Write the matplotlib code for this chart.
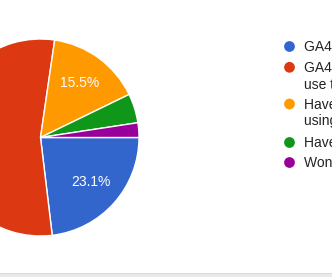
import matplotlib
matplotlib.use("Agg")
import matplotlib.pyplot as plt

plt.rcParams['font.family'] = ['Liberation Sans', 'DejaVu Sans']

# Survey responses (percent of respondents)
labels = [
    "GA4 is set up and is the only tool we use",
    "GA4 is set up, but we still\nuse the old Universal Analytics",
    "Haven't set up GA4 yet, but plan on\nusing it soon",
    "Haven't decided yet",
    "Won't be using GA4",
]
shares = [23.1, 54.2, 15.5, 4.8, 2.4]
colors = ["#3366cc", "#dc3912", "#ff9900", "#109618", "#990099"]

W, H = 332, 277
fig = plt.figure(figsize=(W / 100, H / 100), dpi=100)
fig.patch.set_facecolor("white")

# Pie axes placed in pixel terms: centre (40.5, 137.5), radius 98.5
cx, cy, r = 40.5, 137.5, 98.5
ax = fig.add_axes([(cx - r) / W, (H - cy - r) / H, 2 * r / W, 2 * r / H])
ax.set_xlim(-1, 1)
ax.set_ylim(-1, 1)
ax.set_aspect("equal")
ax.axis("off")


def pct_label(p):
    return f"{p:.1f}%" if p >= 10 else ""


wedges, texts, autotexts = ax.pie(
    shares,
    colors=colors,
    startangle=0,
    counterclock=False,
    radius=1.0,
    autopct=pct_label,
    pctdistance=0.68,
    wedgeprops=dict(edgecolor="white", linewidth=1.0),
    textprops=dict(color="white", fontsize=10),
)
ax.set_xlim(-1, 1)
ax.set_ylim(-1, 1)

# Overlay in pixel coordinates for the legend and the footer strip
ov = fig.add_axes([0, 0, 1, 1], zorder=5)
ov.set_xlim(0, W)
ov.set_ylim(H, 0)
ov.axis("off")
ov.patch.set_alpha(0)

row_y = [46.5, 67.3, 104.0, 142.5, 162.5]
line_step = 16.5
for lab, col, y in zip(labels, colors, row_y):
    ov.scatter([289.5], [y], s=60, color=col, edgecolors="none")
    for k, line in enumerate(lab.split("\n")):
        ov.text(303.5, y + 4.8 + k * line_step, line, fontsize=10,
                color="#222222", va="baseline", ha="left", clip_on=False)

ov.axhspan(272.5, 277, color="#e9e9e9", lw=0)
ov.axhline(272.8, color="#dcdcdc", lw=0.8)

fig.savefig("out.png", dpi=100, facecolor="white")
